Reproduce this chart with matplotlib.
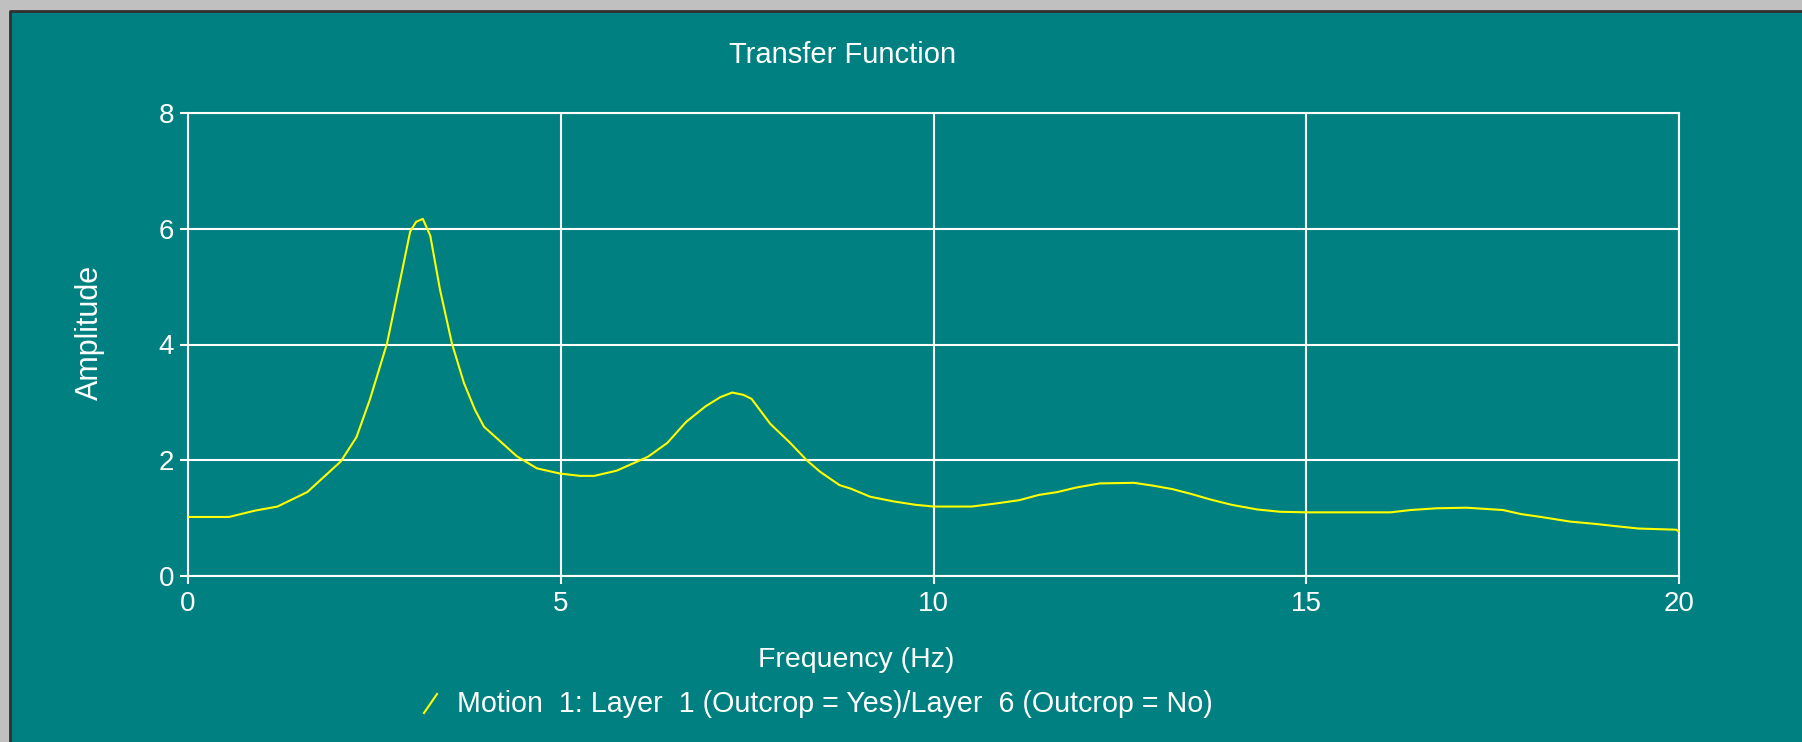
import matplotlib
matplotlib.use('Agg')
import matplotlib.pyplot as plt
from matplotlib.lines import Line2D
from matplotlib.patches import Rectangle

# transfer function
freq = [0, 0.55, 0.9, 1.2, 1.6, 2.05, 2.26, 2.44, 2.67, 2.82, 2.98, 3.06, 3.15,
        3.25, 3.38, 3.54, 3.70, 3.85, 3.97, 4.41, 4.68, 4.99, 5.26, 5.45, 5.75,
        6.17, 6.43, 6.68, 6.94, 7.14, 7.30, 7.45, 7.56, 7.81, 8.07, 8.30, 8.48,
        8.74, 8.89, 9.15, 9.46, 9.76, 10.0, 10.51, 10.82, 11.15, 11.41, 11.66,
        11.92, 12.23, 12.69, 12.95, 13.21, 13.45, 13.72, 14.0, 14.34, 14.65,
        15.0, 16.13, 16.4, 16.75, 17.15, 17.64, 17.88, 18.15, 18.54, 18.88,
        19.16, 19.46, 19.96, 20.0]
amp = [1.02, 1.02, 1.13, 1.2, 1.45, 1.98, 2.4, 3.05, 4.02, 4.95, 5.95, 6.12, 6.17,
       5.88, 4.95, 4.02, 3.34, 2.87, 2.58, 2.07, 1.86, 1.77, 1.73, 1.73, 1.82,
       2.06, 2.30, 2.66, 2.93, 3.09, 3.17, 3.13, 3.06, 2.63, 2.31, 2.00, 1.80,
       1.57, 1.51, 1.37, 1.29, 1.23, 1.20, 1.20, 1.25, 1.31, 1.40, 1.45,
       1.53, 1.60, 1.61, 1.56, 1.50, 1.42, 1.32, 1.23, 1.15, 1.11,
       1.10, 1.10, 1.14, 1.17, 1.18, 1.14, 1.07, 1.02, 0.94, 0.90,
       0.86, 0.82, 0.80, 0.77]

xticks = [0, 5, 10, 15, 20]
yticks = [0, 2, 4, 6, 8]
title = 'Transfer Function'
xlabel = 'Frequency (Hz)'
ylabel = 'Amplitude'
legend_text = 'Motion  1: Layer  1 (Outcrop = Yes)/Layer  6 (Outcrop = No)'

teal = '#008080'
W, H = 1802, 742

plt.rcParams['font.family'] = ['Liberation Sans', 'DejaVu Sans']

fig = plt.figure(figsize=(W / 100, H / 100), dpi=100, facecolor='#c0c0c0')

# teal panel with dark edge at top and left (kept behind the axes)
fig.add_artist(Rectangle((11 / W, 0), 1, 1 - 12 / H, transform=fig.transFigure,
                         facecolor=teal, edgecolor='none', zorder=-10))
fig.add_artist(Line2D([10 / W, 10 / W, 1], [0, 1 - 11 / H, 1 - 11 / H],
                      transform=fig.transFigure, color='#303030', lw=2, zorder=-9))

ax = fig.add_axes([188 / W, 1 - 576 / H, (1679 - 188) / W, (576 - 113) / H])
ax.set_facecolor(teal)
ax.plot(freq, amp, color='#ffff00', lw=1.5, zorder=3)

ax.set_xlim(0, 20)
ax.set_ylim(0, 8)
ax.set_xticks(xticks)
ax.set_yticks(yticks)
ax.grid(True, color='white', lw=1.5)
for s in ax.spines.values():
    s.set_color('white')
    s.set_linewidth(1.5)
ax.tick_params(colors='white', length=6, width=1.5, labelsize=20, pad=4)
ax.tick_params(axis='x', pad=5)

fig.text(843 / W, 1 - 55 / H, title, color='white', fontsize=21,
         ha='center', va='center')
fig.text(856 / W, 1 - 660 / H, xlabel, color='white', fontsize=20.5,
         ha='center', va='center')
fig.text(90 / W, 1 - 332 / H, ylabel, color='white', fontsize=22,
         ha='center', va='center', rotation=90)

# legend: small yellow slash then the text
fig.add_artist(Line2D([424 / W, 437 / W], [1 - 713 / H, 1 - 694 / H],
                      transform=fig.transFigure, color='#ffff00', lw=1.5))
fig.text(457 / W, 1 - 704 / H, legend_text, color='white', fontsize=20.6,
         ha='left', va='center')

plt.savefig('out.png', dpi=100, facecolor=fig.get_facecolor())
